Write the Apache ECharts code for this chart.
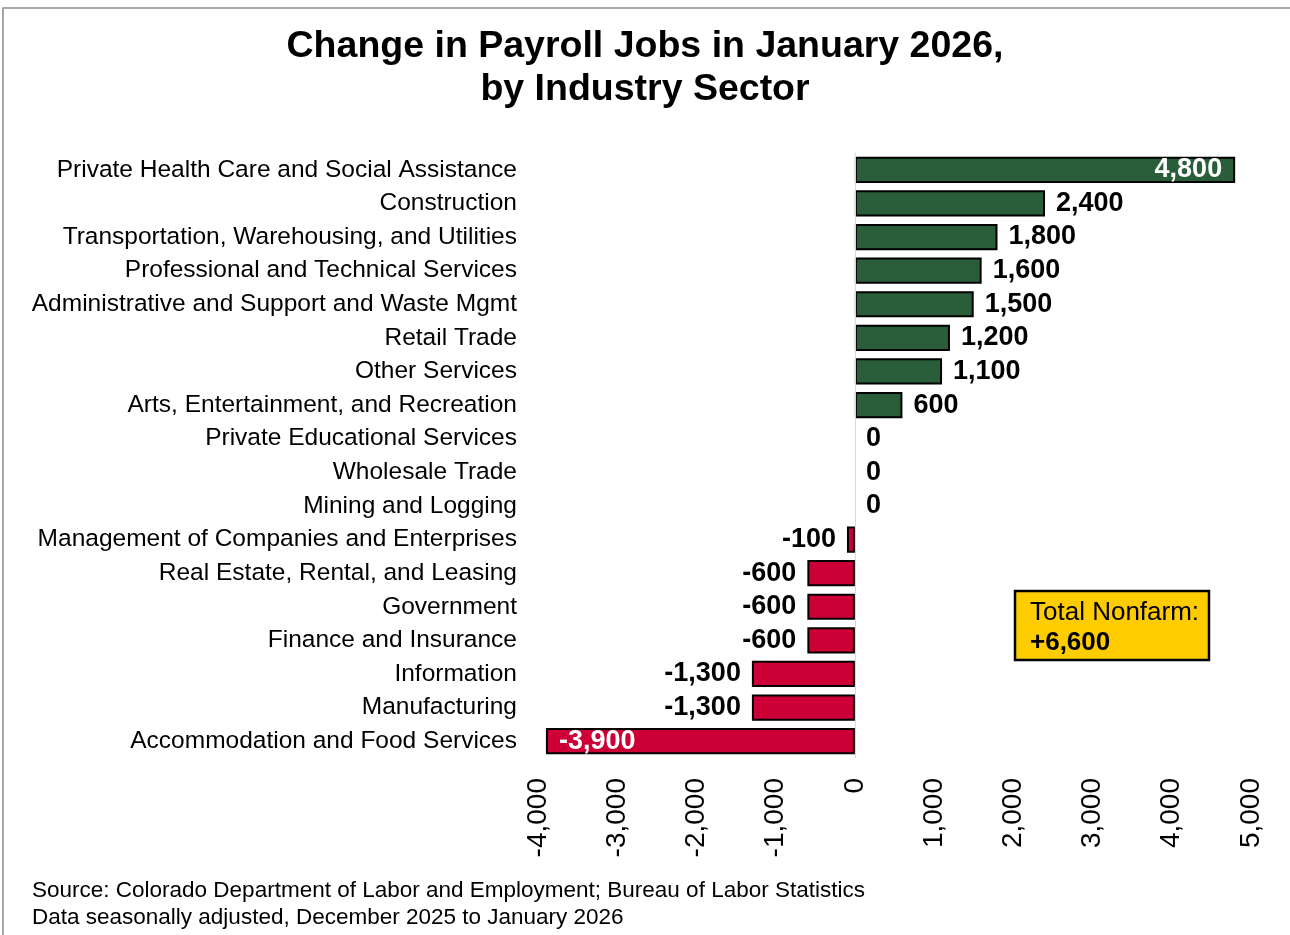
<!DOCTYPE html>
<html>
<head>
<meta charset="utf-8">
<script src="https://cdn.jsdelivr.net/npm/echarts@6/dist/echarts.min.js"></script>
<style>
  html, body { margin: 0; padding: 0; background: #fff; }
  #chart { width: 1290px; height: 935px; }
</style>
</head>
<body>
<div id="chart"></div>
<script>
// sectors, top to bottom
const sectors = [
  'Private Health Care and Social Assistance',
  'Construction',
  'Transportation, Warehousing, and Utilities',
  'Professional and Technical Services',
  'Administrative and Support and Waste Mgmt',
  'Retail Trade',
  'Other Services',
  'Arts, Entertainment, and Recreation',
  'Private Educational Services',
  'Wholesale Trade',
  'Mining and Logging',
  'Management of Companies and Enterprises',
  'Real Estate, Rental, and Leasing',
  'Government',
  'Finance and Insurance',
  'Information',
  'Manufacturing',
  'Accommodation and Food Services'
]
const jobChange = [4800, 2400, 1800, 1600, 1500, 1200, 1100, 600, 0, 0, 0, -100, -600, -600, -600, -1300, -1300, -3900]
const totalNonfarm = '+6,600'

const FONT = '"Liberation Sans", Arial, sans-serif'
const GREEN = '#2A5E3A'
const RED = '#CC0036'

const fmt = v => v.toLocaleString('en-US')

const barData = jobChange.map(v => {
  const item = {
    value: v,
    itemStyle: { color: v >= 0 ? GREEN : RED, borderWidth: v === 0 ? 0 : 2 },
    label: { position: v < 0 ? 'left' : 'right' }
  }
  // the longest bars carry their label inside in white
  if (v === Math.max(...jobChange)) item.label = { position: 'insideRight', color: '#fff', distance: 13 }
  if (v === Math.min(...jobChange)) item.label = { position: 'insideLeft', color: '#fff', distance: 13 }
  return item
})

const chart = echarts.init(document.getElementById('chart'))
const option = {
  backgroundColor: '#fff',
  animation: false,
  title: {
    text: 'Change in Payroll Jobs in January 2026,\nby Industry Sector',
    left: 'center',
    top: 20,
    textStyle: { fontFamily: FONT, fontSize: 37.5, fontWeight: 'bold', color: '#000', lineHeight: 43 }
  },
  grid: { left: 538, right: 39, top: 153, bottom: 177 },
  xAxis: {
    type: 'value',
    min: -4000,
    max: 5000,
    interval: 1000,
    splitLine: { show: false },
    axisLine: { show: false },
    axisTick: { show: false },
    axisLabel: {
      rotate: 90,
      margin: 20,
      fontFamily: FONT,
      fontSize: 28,
      color: '#000',
      formatter: v => fmt(v)
    }
  },
  yAxis: {
    type: 'category',
    data: sectors,
    inverse: true,
    axisLine: { show: false, onZero: false },
    axisTick: { show: false },
    axisLabel: { margin: 21, fontFamily: FONT, fontSize: 24.5, color: '#000' }
  },
  series: [{
    type: 'bar',
    data: barData,
    barCategoryGap: '22%',
    itemStyle: { borderColor: '#000', borderWidth: 2 },
    label: {
      show: true,
      distance: 11,
      fontFamily: FONT,
      fontSize: 27,
      fontWeight: 'bold',
      color: '#000',
      formatter: p => fmt(p.value)
    },
    markLine: {
      silent: true,
      symbol: 'none',
      label: { show: false },
      lineStyle: { color: '#d9d9d9', width: 1, type: 'solid' },
      data: [{ xAxis: 0 }]
    }
  }],
  graphic: [
    {
      type: 'rect',
      shape: { x: 3, y: 8, width: 1300, height: 940 },
      style: { fill: 'none', stroke: '#8c8c8c', lineWidth: 1.5 },
      z: -1
    },
    {
      type: 'rect',
      shape: { x: 1015, y: 591, width: 194, height: 69 },
      style: { fill: '#FFCC00', stroke: '#000', lineWidth: 2.5 }
    },
    {
      type: 'text',
      left: 1030,
      top: 600,
      style: { text: 'Total Nonfarm:', font: '26px ' + FONT, fill: '#000' }
    },
    {
      type: 'text',
      left: 1030,
      top: 630,
      style: { text: totalNonfarm, font: 'bold 26px ' + FONT, fill: '#000' }
    },
    {
      type: 'text',
      left: 32,
      top: 877,
      style: {
        text: 'Source: Colorado Department of Labor and Employment; Bureau of Labor Statistics\nData seasonally adjusted, December 2025 to January 2026',
        font: '22.5px ' + FONT,
        lineHeight: 27,
        fill: '#000'
      }
    }
  ]
}
chart.setOption(option)
</script>
</body>
</html>
